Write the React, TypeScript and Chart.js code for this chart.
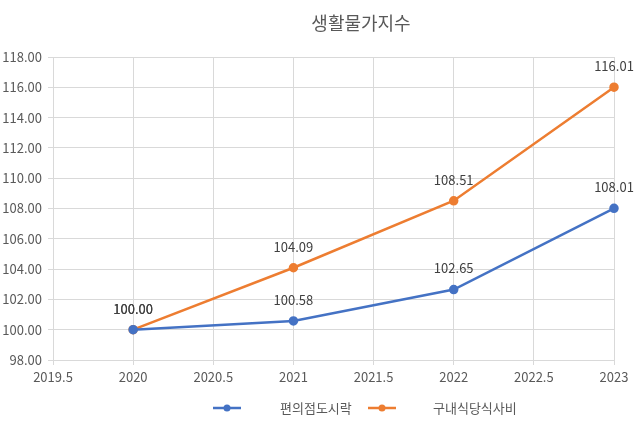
import React, { useEffect, useRef } from "react";
import { Chart, registerables } from "chart.js";

Chart.register(...registerables);

const TITLE = "생활물가지수";
const YEARS = [2020, 2021, 2022, 2023];
const SERIES_NAMES = ["편의점도시락", "구내식당식사비"];
const CONVENIENCE = [100.0, 100.58, 102.65, 108.01];
const CAFETERIA = [100.0, 104.09, 108.51, 116.01];
const COLORS = ["#4472C4", "#ED7D31"];

const FONT = "'Noto Sans CJK KR', 'Noto Sans', sans-serif";
const TEXT_COLOR = "#595959";

const titlePlugin = {
  id: "customTitle",
  afterDraw(chart: any) {
    const ctx = chart.ctx;
    ctx.save();
    ctx.font = `18px ${FONT}`;
    ctx.fillStyle = TEXT_COLOR;
    ctx.textAlign = "center";
    ctx.textBaseline = "middle";
    ctx.fillText(TITLE, 361, 23);
    ctx.restore();
  },
};

const labelPlugin = {
  id: "valueLabels",
  afterDatasetsDraw(chart: any) {
    const ctx = chart.ctx;
    ctx.save();
    ctx.font = `13px ${FONT}`;
    ctx.fillStyle = "#404040";
    ctx.textAlign = "center";
    ctx.textBaseline = "middle";
    chart.data.datasets.forEach((ds: any, i: number) => {
      const meta = chart.getDatasetMeta(i);
      meta.data.forEach((pt: any, j: number) => {
        const v = ds.data[j].y as number;
        ctx.fillText(v.toFixed(2), pt.x, pt.y - 21);
      });
    });
    ctx.restore();
  },
};

const legendPlugin = {
  id: "customLegend",
  afterDraw(chart: any) {
    const ctx = chart.ctx;
    const items = [
      { lineX: 213, textX: 280 },
      { lineX: 368, textX: 433 },
    ];
    const y = 408;
    ctx.save();
    chart.data.datasets.forEach((ds: any, i: number) => {
      const it = items[i];
      ctx.strokeStyle = ds.borderColor;
      ctx.lineWidth = 2.5;
      ctx.beginPath();
      ctx.moveTo(it.lineX, y);
      ctx.lineTo(it.lineX + 28, y);
      ctx.stroke();
      ctx.fillStyle = ds.borderColor;
      ctx.beginPath();
      ctx.arc(it.lineX + 14, y, 3.5, 0, Math.PI * 2);
      ctx.fill();
      ctx.font = `13px ${FONT}`;
      ctx.fillStyle = TEXT_COLOR;
      ctx.textAlign = "left";
      ctx.textBaseline = "middle";
      ctx.fillText(ds.label, it.textX, y);
    });
    ctx.restore();
  },
};

export default function App() {
  const ref = useRef<HTMLCanvasElement | null>(null);

  useEffect(() => {
    if (!ref.current) return;
    const mk = (vals: number[]) => YEARS.map((x, i) => ({ x, y: vals[i] }));
    const chart = new Chart(ref.current, {
      type: "line",
      data: {
        datasets: [
          {
            label: SERIES_NAMES[0],
            data: mk(CONVENIENCE),
            borderColor: COLORS[0],
            backgroundColor: COLORS[0],
            borderWidth: 2.5,
            pointRadius: 3.5,
            pointHoverRadius: 3.5,
            tension: 0,
            clip: false,
          },
          {
            label: SERIES_NAMES[1],
            data: mk(CAFETERIA),
            borderColor: COLORS[1],
            backgroundColor: COLORS[1],
            borderWidth: 2.5,
            pointRadius: 3.5,
            pointHoverRadius: 3.5,
            tension: 0,
            clip: false,
          },
        ],
      },
      options: {
        animation: false,
        responsive: false,
        maintainAspectRatio: false,
        layout: { padding: { left: 0, right: 26, top: 57, bottom: 38 } },
        plugins: {
          legend: { display: false },
          title: { display: false },
          tooltip: { enabled: false },
        },
        scales: {
          x: {
            type: "linear",
            min: 2019.5,
            max: 2023,
            afterFit: (s: any) => {
              s.height = 30;
            },
            ticks: {
              stepSize: 0.5,
              color: TEXT_COLOR,
              font: { family: FONT, size: 13 },
              padding: 4,
              maxRotation: 0,
              callback: (v: any) => String(v),
            },
            grid: { color: "#d9d9d9", tickLength: 5 },
            border: { color: "#d9d9d9" },
          },
          y: {
            min: 98,
            max: 118,
            afterFit: (s: any) => {
              s.width = 53;
            },
            ticks: {
              stepSize: 2,
              color: TEXT_COLOR,
              font: { family: FONT, size: 13 },
              padding: 6,
              callback: (v: any) => Number(v).toFixed(2),
            },
            grid: { color: "#d9d9d9", tickLength: 5 },
            border: { color: "#d9d9d9" },
          },
        },
      },
      plugins: [titlePlugin, labelPlugin, legendPlugin],
    } as any);
    return () => chart.destroy();
  }, []);

  return (
    <div style={{ position: "absolute", left: 0, top: 0, width: 640, height: 428, background: "#fff" }}>
      <canvas ref={ref} width={640} height={428} style={{ width: 640, height: 428 }} />
    </div>
  );
}
